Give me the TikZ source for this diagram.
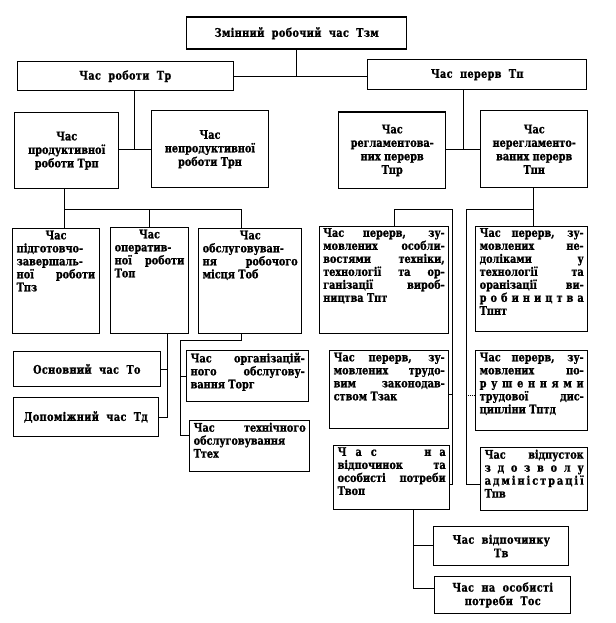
\documentclass[tikz,border=0pt]{standalone}
\usepackage{fontspec}
\setmainfont[FakeStretch=0.82,BoldFeatures={FakeBold=1.2}]{DejaVu Serif}
\newfontfamily\hdfont[FakeStretch=0.82,LetterSpace=3,WordSpace=2,BoldFeatures={FakeBold=1.2}]{DejaVu Serif}
\newcommand\J[1]{\makebox[\linewidth][s]{#1}\par}
\newcommand\C[1]{\makebox[\linewidth][c]{#1}\par}
\newcommand\Lf[1]{\makebox[\linewidth][l]{#1}\par}
\newcommand\Sp[1]{\hbox to\linewidth{#1}\par}
\tikzset{
  bx/.style={draw, line width=1.4pt, inner sep=0pt, anchor=north west,
    font=\bfseries\fontsize{11.8}{13}\selectfont},
  hd/.style={font=\hdfont\bfseries\fontsize{11.8}{13.5}\selectfont},
  ct/.style={font=\bfseries\fontsize{11.8}{13.5}\selectfont},
  ln/.style={line width=0.9pt},
}
\newcommand\tb[6]{%
  \pgfmathsetmacro\ww{#4-#2}\pgfmathsetmacro\hh{#5-#3}%
  \node[bx, minimum width=\ww pt, minimum height=\hh pt] (#1) at (#2,#3)
   {\begin{minipage}[c][\hh pt][t]{\dimexpr\ww pt-8pt\relax}\parindent0pt\vspace*{2pt}#6\end{minipage}};}
\newcommand\cb[7][]{%
  \pgfmathsetmacro\ww{#5-#3}\pgfmathsetmacro\hh{#6-#4}%
  \node[bx, align=center, minimum width=\ww pt, minimum height=\hh pt, #1] (#2) at (#3,#4) {#7};}
\begin{document}
\begin{tikzpicture}[x=1pt,y=-1pt]
\useasboundingbox (0,0) rectangle (615,623);
% level 1-2
\cb[hd]{Tzm}{186}{16.5}{406}{48.5}{Змінний робочий час Тзм}
\cb[hd]{Tr}{16.5}{61}{232.5}{90}{Час роботи Тр}
\cb[hd]{Tp}{367}{59}{586}{89}{Час перерв Тп}
% level 3
\cb[ct]{Trp}{14}{112}{118}{188}{Час\\продуктивної\\роботи Трп}
\cb[ct]{Trn}{150.5}{110}{268}{187}{Час\\непродуктивної\\роботи Трн}
\cb[ct]{Tpr}{338}{111.5}{445}{188}{Час\\регламентова-\\них перерв\\Тпр}
\cb[ct]{Tpn}{480}{110}{587}{187}{Час\\нерегламенто-\\ваних перерв\\Тпн}
% level 4 left
\tb{Tpz}{12}{228}{98.5}{333}{\C{Час}\Lf{підготовчо-}\Lf{завершаль-}\J{ної роботи}\Lf{Тпз}}
\tb{Top}{110}{227}{187.6}{333}{\C{Час}\Lf{оператив-}\J{ної роботи}\Lf{Топ}}
\tb{Tob}{198}{228}{301}{333}{\C{Час}\Lf{обслуговуван-}\J{ня робочого}\Lf{місця Тоб}}
\cb[hd]{To}{12.6}{351}{159.6}{385.5}{Основний час То}
\cb[hd]{Td}{12.6}{397}{157.7}{435.5}{Допоміжний час Тд}
\tb{Torg}{186}{350}{308}{401}{\J{Час організацій-}\J{ного обслугову-}\Lf{вання Торг}}
\tb{Ttex}{189}{420}{309}{471}{\J{Час технічного}\Lf{обслуговування}\Lf{Ттех}}
% level 4 right
\tb{Tpt}{318.5}{225.5}{448}{333}{\J{Час перерв, зу-}\J{мовлених особли-}\J{востями техніки,}\J{технології та ор-}\J{ганізації вироб-}\Lf{ництва Тпт}}
\tb{Tpnt}{475}{225.5}{587}{331}{\J{Час перерв, зу-}\J{мовлених не-}\J{доліками у}\J{технології та}\J{оранізації ви-}\J{р о б и н и ц т в а}\Lf{Тпнт}}
\tb{Tzak}{329}{350}{448}{428}{\J{Час перерв, зу-}\J{мовлених трудо-}\J{вим законодав-}\Lf{ством Тзак}}
\tb{Tptd}{475}{350}{587}{430}{\J{Час перерв, зу-}\J{мовлених по-}\J{р у ш е н н я м и}\J{трудової дис-}\Lf{ципліни Тптд}}
\tb{Tvop}{333}{444.6}{449}{509}{\Sp{Ч\hspace{9pt}а\hspace{9pt}с\hfill н\hspace{8pt}а}\J{відпочинок та}\J{особисті потреби}\Lf{Твоп}}
\tb{Tpv}{480}{447}{587}{510}{\J{Час відпусток}\J{з д о з в о л у}\Sp{а\hfil д\hfil м\hfil і\hfil н\hfil і\hfil с\hfil т\hfil р\hfil а\hfil ц\hfil і\hfil ї}\Lf{Тпв}}
\cb[hd]{Tv}{433}{526}{568}{564.5}{Час відпочинку\\Тв}
\cb[hd]{Tos}{434}{575.5}{570}{613}{Час на особисті\\потреби Тос}
% connectors
\draw[ln] (Tzm.south) -- (Tzm.south |- Tr.east);
\draw[ln] (Tr.east) -- (Tr.east -| Tp.west);
\coordinate (j1) at (134,149);
\draw[ln] (Tr.south -| j1) -- (j1);
\draw[ln] (Trp.east |- j1) -- (Trn.west |- j1);
\coordinate (j2) at (463,149);
\draw[ln] (Tp.south -| j2) -- (j2);
\draw[ln] (Tpr.east |- j2) -- (Tpn.west |- j2);
\coordinate (b1) at (64,209);
\coordinate (b1r) at (241,209);
\draw[ln] (Trp.south -| b1) -- (Tpz.north -| b1);
\draw[ln] (b1) -- (b1r) -- (Tob.north -| b1r);
\draw[ln] (Top.north |- b1) -- (Top.north);
\coordinate (c1) at (167.5,0);
\draw[ln] (Top.south -| c1) -- (c1 |- Td.east);
\draw[ln] (To.east) -- (To.east -| c1);
\draw[ln] (Td.east) -- (Td.east -| c1);
\coordinate (d1) at (241,340);
\coordinate (d2) at (180,340);
\coordinate (d3) at (180,435.5);
\draw[ln] (Tob.south -| d1) -- (d1) -- (d2) -- (d3) -- (d3 -| Ttex.west);
\draw[ln] (d2 |- Torg.west) -- (Torg.west);
\coordinate (e1) at (394,209);
\coordinate (e2) at (452,209);
\coordinate (e3) at (452,484);
\coordinate (e4) at (452,394);
\draw[ln] (Tpt.north -| e1) -- (e1) -- (e2) -- (e3) -- (e3 -| Tvop.east);
\draw[ln] (e4) -- (e4 -| Tzak.east);
\coordinate (f1) at (533,209);
\coordinate (f2) at (466,209);
\coordinate (f3) at (466,484);
\coordinate (f4) at (466,395);
\draw[ln] (Tpn.south -| f1) -- (Tpnt.north -| f1);
\draw[ln] (f1) -- (f2) -- (f3) -- (f3 -| Tpv.west);
\draw[ln, densely dotted] (f4) -- (f4 -| Tptd.west);
\coordinate (g1) at (413,545);
\coordinate (g2) at (413,588);
\draw[ln] (Tvop.south -| g1) -- (g2) -- (g2 -| Tos.west);
\draw[ln] (g1) -- (g1 -| Tv.west);
\end{tikzpicture}
\end{document}
